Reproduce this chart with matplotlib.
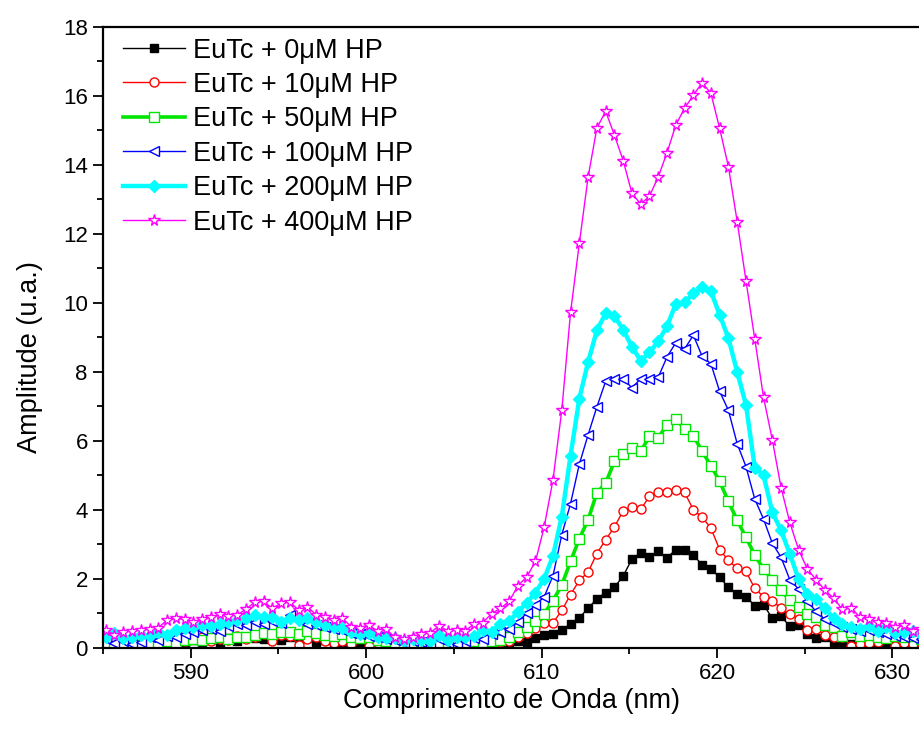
import numpy as np
import matplotlib
matplotlib.use("Agg")
import matplotlib.pyplot as plt
from matplotlib.ticker import MultipleLocator

plt.rcParams['font.family'] = ['Liberation Sans', 'DejaVu Sans']

# wavelength grid of the spectrometer (nm)
wl_start = 585.15
wl_step = 0.5
n_pts = 94

labels = ['EuTc + 0μM HP', 'EuTc + 10μM HP', 'EuTc + 50μM HP',
          'EuTc + 100μM HP', 'EuTc + 200μM HP', 'EuTc + 400μM HP']

hp0 = [0.05, 0.08, 0.03, 0.10, 0.05, 0.08, 0.12, 0.05, 0.20, 0.15,
       0.22, 0.18, 0.25, 0.15, 0.27, 0.20, 0.30, 0.28, 0.25, 0.35,
       0.22, 0.30, 0.25, 0.28, 0.18, 0.22, 0.12, 0.18, 0.20, 0.10,
       0.12, 0.08, 0.05, 0.08, 0.02, 0.05, 0.03, 0.02, 0.05, 0.02,
       0.05, 0.03, 0.08, 0.10, 0.12, 0.15, 0.12, 0.20, 0.18, 0.27,
       0.36, 0.39, 0.50, 0.70, 0.87, 1.14, 1.42, 1.60, 1.75, 2.08,
       2.57, 2.76, 2.64, 2.80, 2.61, 2.84, 2.82, 2.69, 2.40, 2.28,
       2.04, 1.75, 1.56, 1.48, 1.22, 1.25, 0.85, 0.91, 0.62, 0.66,
       0.40, 0.27, 0.31, 0.17, 0.17, 0.10, 0.12, 0.08, 0.10, 0.05,
       0.08, 0.05, 0.06, 0.04]

hp10 = [0.10, 0.05, 0.02, 0.08, 0.03, 0.05, 0.10, 0.17, 0.12, 0.20,
        0.37, 0.30, 0.20, 0.25, 0.22, 0.35, 0.24, 0.30, 0.40, 0.20,
        0.38, 0.35, 0.08, 0.25, 0.30, 0.20, 0.15, 0.20, 0.12, 0.30,
        0.05, 0.15, 0.05, 0.10, 0.02, 0.05, 0.08, 0.02, 0.05, 0.03,
        0.05, 0.05, 0.08, 0.12, 0.10, 0.18, 0.20, 0.30, 0.42, 0.57,
        0.72, 0.72, 1.08, 1.54, 1.95, 2.19, 2.73, 3.13, 3.50, 3.97,
        4.07, 4.01, 4.39, 4.51, 4.51, 4.58, 4.50, 4.00, 3.78, 3.47,
        2.84, 2.53, 2.30, 2.21, 1.72, 1.48, 1.36, 1.14, 0.98, 0.82,
        0.52, 0.55, 0.37, 0.32, 0.30, 0.06, 0.10, 0.13, 0.17, 0.27,
        0.05, 0.15, 0.10, 0.17]

hp50 = [0.15, 0.05, 0.05, 0.10, 0.08, 0.15, 0.12, 0.20, 0.15, 0.22,
        0.25, 0.22, 0.28, 0.30, 0.25, 0.32, 0.30, 0.36, 0.44, 0.40,
        0.46, 0.46, 0.40, 0.48, 0.42, 0.38, 0.35, 0.40, 0.30, 0.27,
        0.30, 0.22, 0.20, 0.15, 0.10, 0.08, 0.12, 0.05, 0.10, 0.03,
        0.10, 0.12, 0.20, 0.18, 0.20, 0.22, 0.30, 0.46, 0.60, 0.77,
        0.99, 1.36, 1.82, 2.50, 3.16, 3.71, 4.49, 4.77, 5.40, 5.62,
        5.80, 5.69, 6.13, 6.09, 6.46, 6.63, 6.35, 6.15, 5.69, 5.28,
        4.82, 4.24, 3.69, 3.20, 2.69, 2.28, 1.97, 1.66, 1.38, 1.19,
        0.98, 0.88, 0.66, 0.59, 0.34, 0.45, 0.35, 0.37, 0.30, 0.27,
        0.33, 0.30, 0.35, 0.25]

hp100 = [0.25, 0.15, 0.20, 0.10, 0.18, 0.30, 0.22, 0.35, 0.30, 0.40,
         0.45, 0.50, 0.55, 0.48, 0.62, 0.70, 0.66, 0.75, 0.70, 0.78,
         0.72, 0.95, 0.80, 0.70, 0.66, 0.60, 0.55, 0.50, 0.44, 0.40,
         0.35, 0.30, 0.25, 0.22, 0.15, 0.20, 0.18, 0.12, 0.25, 0.15,
         0.10, 0.20, 0.28, 0.25, 0.40, 0.47, 0.55, 0.75, 1.00, 1.24,
         1.48, 2.09, 3.27, 4.18, 5.32, 6.17, 6.98, 7.72, 7.80, 7.80,
         7.53, 7.80, 7.80, 7.84, 8.43, 8.84, 8.66, 9.06, 8.45, 8.23,
         7.43, 6.88, 5.91, 5.25, 4.31, 3.73, 3.03, 2.62, 1.97, 1.70,
         1.34, 1.05, 0.82, 0.72, 0.60, 0.55, 0.48, 0.50, 0.45, 0.40,
         0.35, 0.30, 0.28, 0.25]

hp200 = [0.30, 0.42, 0.27, 0.32, 0.37, 0.35, 0.46, 0.37, 0.51, 0.58,
         0.60, 0.66, 0.64, 0.70, 0.75, 0.80, 0.85, 0.95, 0.88, 0.90,
         0.75, 0.87, 0.80, 0.85, 0.75, 0.66, 0.61, 0.58, 0.46, 0.40,
         0.42, 0.30, 0.27, 0.27, 0.20, 0.25, 0.22, 0.20, 0.37, 0.22,
         0.30, 0.32, 0.34, 0.50, 0.46, 0.70, 0.77, 1.04, 1.30, 1.60,
         2.00, 2.66, 3.80, 5.57, 7.22, 8.28, 9.20, 9.69, 9.61, 9.22,
         8.72, 8.32, 8.56, 8.88, 9.32, 9.97, 10.01, 10.27, 10.45, 10.33,
         9.65, 8.97, 7.99, 7.04, 5.22, 5.00, 3.93, 3.40, 2.72, 1.99,
         1.56, 1.40, 1.14, 0.85, 0.69, 0.59, 0.53, 0.63, 0.49, 0.59,
         0.42, 0.46, 0.49, 0.40]

hp400 = [0.51, 0.38, 0.46, 0.48, 0.52, 0.53, 0.58, 0.80, 0.85, 0.82,
         0.75, 0.83, 0.88, 0.97, 0.93, 0.95, 1.12, 1.32, 1.34, 1.14,
         1.29, 1.32, 1.09, 1.19, 0.95, 0.90, 0.80, 0.85, 0.61, 0.58,
         0.66, 0.48, 0.53, 0.30, 0.25, 0.31, 0.40, 0.44, 0.63, 0.49,
         0.51, 0.49, 0.69, 0.73, 0.99, 1.14, 1.34, 1.80, 2.05, 2.50,
         3.51, 4.87, 6.88, 9.72, 11.72, 13.64, 15.06, 15.55, 14.86, 14.12,
         13.17, 12.86, 13.09, 13.65, 14.35, 15.15, 15.64, 16.01, 16.38, 16.07,
         15.05, 13.94, 12.35, 10.64, 8.95, 7.26, 6.03, 4.64, 3.63, 2.84,
         2.28, 1.97, 1.67, 1.43, 1.11, 1.16, 0.88, 0.82, 0.75, 0.71,
         0.61, 0.66, 0.49, 0.53]

wl = wl_start + wl_step * np.arange(n_pts)

series = [hp0, hp10, hp50, hp100, hp200, hp400]
colors = ['black', '#FF0000', '#00E600', '#0000FF', '#00FFFF', '#FF00FF']
mk = ['s', 'o', 's', '<', 'D', '*']
mfc = ['black', 'white', 'white', 'white', '#00FFFF', 'white']
ms = [6.3, 6.5, 6.5, 7, 6.5, 8.5]
lw = [1.0, 1.0, 2.6, 1.0, 3.2, 1.0]

fig = plt.figure(figsize=(9.2, 7.4), dpi=100)
ax = fig.add_axes([0.112, 0.1247, 0.888, 0.8392])

for y, c, m, fc, s, w, lab in zip(series, colors, mk, mfc, ms, lw, labels):
    ax.plot(wl, y, color=c, lw=w, marker=m, ms=s, mfc=fc, mec=c,
            mew=1.0, label=lab)

ax.set_xlim(585, 631.57)
ax.set_ylim(0, 18)
ax.xaxis.set_major_locator(MultipleLocator(10))
ax.xaxis.set_minor_locator(MultipleLocator(5))
ax.yaxis.set_major_locator(MultipleLocator(2))
ax.yaxis.set_minor_locator(MultipleLocator(1))
ax.tick_params(which='major', direction='out', length=7, width=1.3,
               labelsize=16, pad=4)
ax.tick_params(which='minor', direction='out', length=4, width=1.3)
for sp in ['left', 'bottom', 'top']:
    ax.spines[sp].set_linewidth(1.6)
ax.spines['right'].set_visible(False)

ax.set_xlabel('Comprimento de Onda (nm)', fontsize=19.5, labelpad=3)
ax.set_ylabel('Amplitude (u.a.)', fontsize=19.5)
ax.yaxis.set_label_coords(-0.073, 0.468)

ax.legend(loc='upper left', bbox_to_anchor=(0.011, 1.0), frameon=False,
          fontsize=19.5, handlelength=2.3, handletextpad=0.28,
          labelspacing=0.31, borderaxespad=0, numpoints=1)

fig.savefig('out.png', dpi=100)
